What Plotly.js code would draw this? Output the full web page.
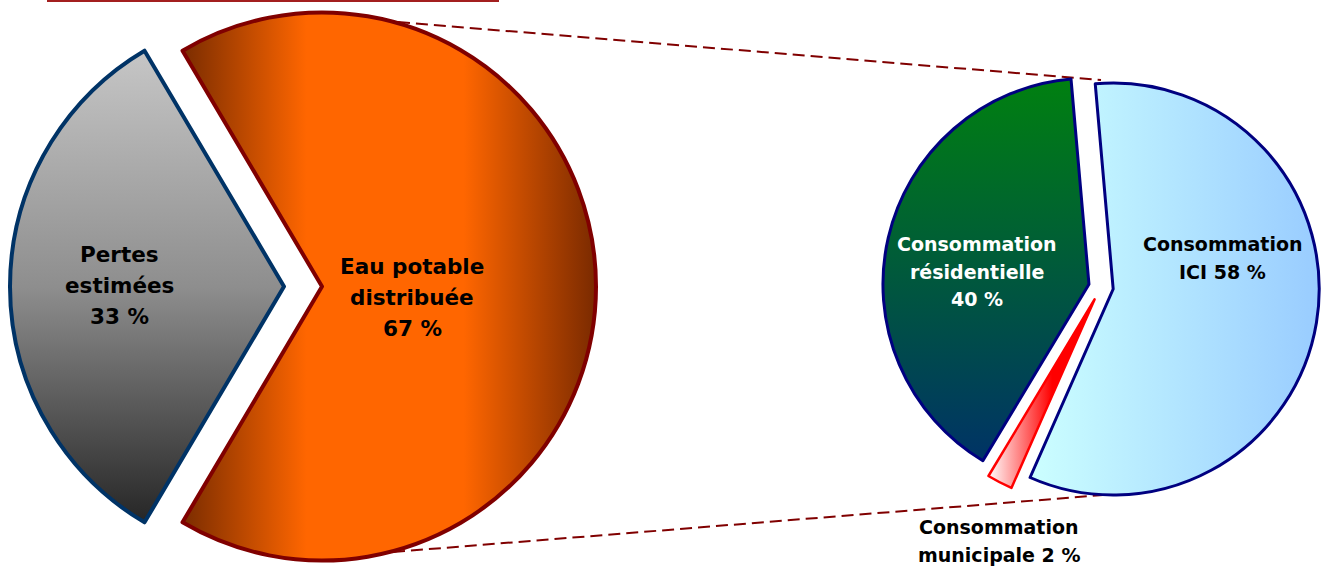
<!DOCTYPE html>
<html>
<head>
<meta charset="utf-8">
<script src="https://cdn.plot.ly/plotly-3.0.1.min.js"></script>
<style>
html,body{margin:0;padding:0;background:#ffffff;overflow:hidden;}
#chart{width:1323px;height:566px;}
</style>
</head>
<body>
<div id="chart"></div>
<script>
// ---- data ----
var mainLabels = ['Pertes estimées', 'Eau potable distribuée'];
var mainValues = [33, 67];
var mainLines = [['Pertes', 'estimées'], ['Eau potable', 'distribuée']];

var subLabels = ['Consommation ICI', 'Consommation municipale', 'Consommation résidentielle'];
var subValues = [58, 2, 40];
var subLines = [['Consommation', 'ICI'], ['Consommation', 'municipale'], ['Consommation', 'résidentielle', '']];

// ---- geometry helpers ----
var W = 1323, H = 566;
function fx(p) { return p / W; }
function fy(p) { return 1 - p / H; }
function squareDomain(cx, cy, half) {
  return { x: [fx(cx - half), fx(cx + half)], y: [fy(cy + half), fy(cy - half)] };
}

var R1 = 274, CY1 = 286.5, GRAY_CX = 284, ORANGE_CX = 322;
var R2 = 206, CX2 = 1101, CY2 = 287;
var subPull = [0.06, 0.068, 0.06];
var maxPull = 0.068;
var CLEAR = 'rgba(0,0,0,0)';

var traceLoss = {
  type: 'pie', name: 'Pertes', values: mainValues, labels: mainLabels,
  sort: false, direction: 'clockwise', rotation: -149.4,
  textinfo: 'none', hoverinfo: 'label+percent', showlegend: false,
  domain: squareDomain(GRAY_CX, CY1, R1),
  marker: { colors: ['#8c8c8c', CLEAR], line: { color: ['#003366', CLEAR], width: [4, 0] } }
};
var traceWater = {
  type: 'pie', name: 'Eau', values: mainValues, labels: mainLabels,
  sort: false, direction: 'clockwise', rotation: -149.4,
  textinfo: 'none', hoverinfo: 'label+percent', showlegend: false,
  domain: squareDomain(ORANGE_CX, CY1, R1),
  marker: { colors: [CLEAR, '#ff6600'], line: { color: [CLEAR, '#800000'], width: [0, 4] } }
};
var traceSub = {
  type: 'pie', name: 'Consommation', values: subValues, labels: subLabels,
  sort: false, direction: 'clockwise', rotation: -5, pull: subPull,
  textinfo: 'none', hoverinfo: 'label+percent', showlegend: false,
  domain: squareDomain(CX2, CY2, R2 * (1 + maxPull)),
  marker: { colors: ['#b3e6ff', '#ff8080', '#005040'], line: { color: ['#000080', '#ff0000', '#000080'], width: [3, 2.5, 3] } }
};

var F = 'DejaVu Sans, Verdana, sans-serif';
var annotations = [];
function block(lines, px, pys, size, color) {
  lines.forEach(function (t, i) {
    annotations.push({ xref: 'paper', yref: 'paper', x: fx(px), y: fy(pys[i]), xanchor: 'center', yanchor: 'middle',
      text: t, showarrow: false, align: 'center',
      font: { family: F, size: size, color: color, weight: 700 } });
  });
}

block([mainLines[0][0], mainLines[0][1], mainValues[0] + ' %'], 119, [254.5, 285.5, 316.5], 21.5, '#000000');
block([mainLines[1][0], mainLines[1][1], mainValues[1] + ' %'], 412, [266, 297, 328], 21.5, '#000000');
block([subLines[2][0], subLines[2][1], subValues[2] + ' %'], 976.5, [244, 271.5, 299], 19, '#ffffff');
block([subLines[0][0], subLines[0][1] + ' ' + subValues[0] + ' %'], 1222, [244, 272], 19, '#000000');
block([subLines[1][0], subLines[1][1] + ' ' + subValues[1] + ' %'], 998.5, [527, 555], 19, '#000000');

function seg(x0, y0, x1, y1, color, width, dash) {
  return { type: 'line', xref: 'paper', yref: 'paper', x0: fx(x0), y0: fy(y0), x1: fx(x1), y1: fy(y1),
    layer: 'below', line: { color: color, width: width, dash: dash } };
}
var shapes = [
  seg(47, 1, 499, 1, '#a31f1f', 2, 'solid'),
  seg(398, 22, CX2, CY2 - R2 - 1, '#800000', 2, '12px,6px'),
  seg(393, 552, CX2 + 2, CY2 + R2 + 2, '#800000', 2, '12px,6px')
];

var layout = {
  width: W, height: H,
  margin: { l: 0, r: 0, t: 0, b: 0, pad: 0 },
  paper_bgcolor: '#ffffff', plot_bgcolor: '#ffffff',
  showlegend: false,
  annotations: annotations,
  shapes: shapes
};

var SVGNS = 'http://www.w3.org/2000/svg';
function addGrad(defs, id, x1, y1, x2, y2, stops) {
  var g = document.createElementNS(SVGNS, 'linearGradient');
  g.setAttribute('id', id);
  g.setAttribute('x1', x1); g.setAttribute('y1', y1);
  g.setAttribute('x2', x2); g.setAttribute('y2', y2);
  stops.forEach(function (s) {
    var st = document.createElementNS(SVGNS, 'stop');
    st.setAttribute('offset', s[0]);
    st.setAttribute('stop-color', s[1]);
    g.appendChild(st);
  });
  defs.appendChild(g);
}

Plotly.newPlot('chart', [traceLoss, traceWater, traceSub], layout, { staticPlot: true }).then(function (gd) {
  var svg = gd.querySelector('svg.main-svg');
  var defs = svg.querySelector('defs');
  if (!defs) { defs = document.createElementNS(SVGNS, 'defs'); svg.insertBefore(defs, svg.firstChild); }
  addGrad(defs, 'gGray', 0, 0, 0, 1, [[0, '#c6c6c6'], [0.5, '#8e8e8e'], [1, '#262626']]);
  addGrad(defs, 'gOrange', 0, 0, 1, 0, [[0, '#7a2c00'], [0.3, '#ff6600'], [0.68, '#ff6600'], [1, '#7a2a00']]);
  addGrad(defs, 'gGreen', 0, 0, 0, 1, [[0, '#008010'], [1, '#003366']]);
  addGrad(defs, 'gCyan', 0, 0, 1, 0, [[0, '#ccffff'], [1, '#99ccff']]);
  addGrad(defs, 'gRed', 0, 0, 1, 0, [[0, '#ffffff'], [0.6, '#ff0000'], [1, '#ff0000']]);
  var traces = gd.querySelectorAll('.pielayer .trace');
  function setFill(ti, si, id) {
    var paths = traces[ti].querySelectorAll('path.surface');
    if (paths[si]) paths[si].style.fill = 'url(#' + id + ')';
  }
  setFill(0, 0, 'gGray');
  setFill(1, 1, 'gOrange');
  setFill(2, 0, 'gCyan');
  setFill(2, 1, 'gRed');
  setFill(2, 2, 'gGreen');
});
</script>
</body>
</html>
